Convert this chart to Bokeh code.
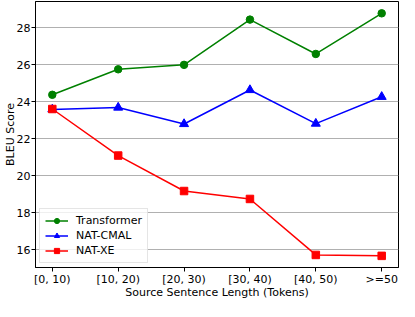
from bokeh.plotting import figure
from bokeh.models import FixedTicker, Range1d, Legend
from bokeh.embed import file_html
from bokeh.resources import INLINE

categories = ["[0, 10)", "[10, 20)", "[20, 30)", "[30, 40)", "[40, 50)", ">=50"]
transformer = [24.38, 25.76, 26.0, 28.45, 26.59, 28.79]
nat_cmal = [23.59, 23.69, 22.8, 24.64, 22.82, 24.27]
nat_xe = [23.61, 21.09, 19.17, 18.74, 15.71, 15.66]
y_ticks = [16, 18, 20, 22, 24, 26, 28]

FONT = "DejaVu Sans"
FS = "11px"
xs = list(range(len(categories)))
x_lo, x_hi = -0.255, 5.255

p = figure(width=399, height=301, output_backend="svg", toolbar_location=None,
           x_range=Range1d(x_lo, x_hi), y_range=Range1d(15.03, 29.43),
           min_border_top=1, min_border_right=1, min_border_left=0, min_border_bottom=0)

series = [
    ("Transformer", transformer, "#008000", "circle", 7.5),
    ("NAT-CMAL", nat_cmal, "#0000ff", "triangle", 9),
    ("NAT-XE", nat_xe, "#ff0000", "square", 7.5),
]
items = []
for name, ys, col, mk, sz in series:
    r1 = p.line(xs, ys, line_color=col, line_width=1.5)
    r2 = p.scatter(xs, ys, marker=mk, size=sz, fill_color=col, line_color=col)
    items.append((name, [r1, r2]))

legend = Legend(items=items, location="bottom_left", margin=4, padding=5,
                spacing=2, glyph_width=23, glyph_height=13, label_standoff=8,
                label_text_font=FONT, label_text_font_size=FS, label_text_color="#000000",
                border_line_color="#cccccc", border_line_width=1,
                background_fill_alpha=0.8, label_height=13)
p.add_layout(legend)

p.outline_line_color = "#000000"
p.outline_line_width = 1
p.xgrid.grid_line_color = None
p.ygrid.grid_line_color = "#b0b0b0"
p.ygrid.grid_line_width = 1

p.xaxis.ticker = FixedTicker(ticks=xs)
p.xaxis.major_label_overrides = {i: c for i, c in zip(xs, categories)}
p.yaxis.ticker = FixedTicker(ticks=y_ticks)
p.xaxis.axis_label = "Source Sentence Length (Tokens)"
p.yaxis.axis_label = "BLEU Score"

for ax in (p.xaxis[0], p.yaxis[0]):
    ax.axis_line_color = "#000000"
    ax.major_tick_line_color = "#000000"
    ax.major_tick_out = 4
    ax.major_tick_in = 0
    ax.minor_tick_line_color = None
    ax.major_label_text_font = FONT
    ax.major_label_text_font_size = FS
    ax.major_label_text_color = "#000000"
    ax.axis_label_text_font = FONT
    ax.axis_label_text_font_size = FS
    ax.axis_label_text_font_style = "normal"
    ax.axis_label_text_color = "#000000"
    ax.major_label_standoff = 1
    ax.axis_label_standoff = -3

open("out.html", "w").write(file_html(p, INLINE))
